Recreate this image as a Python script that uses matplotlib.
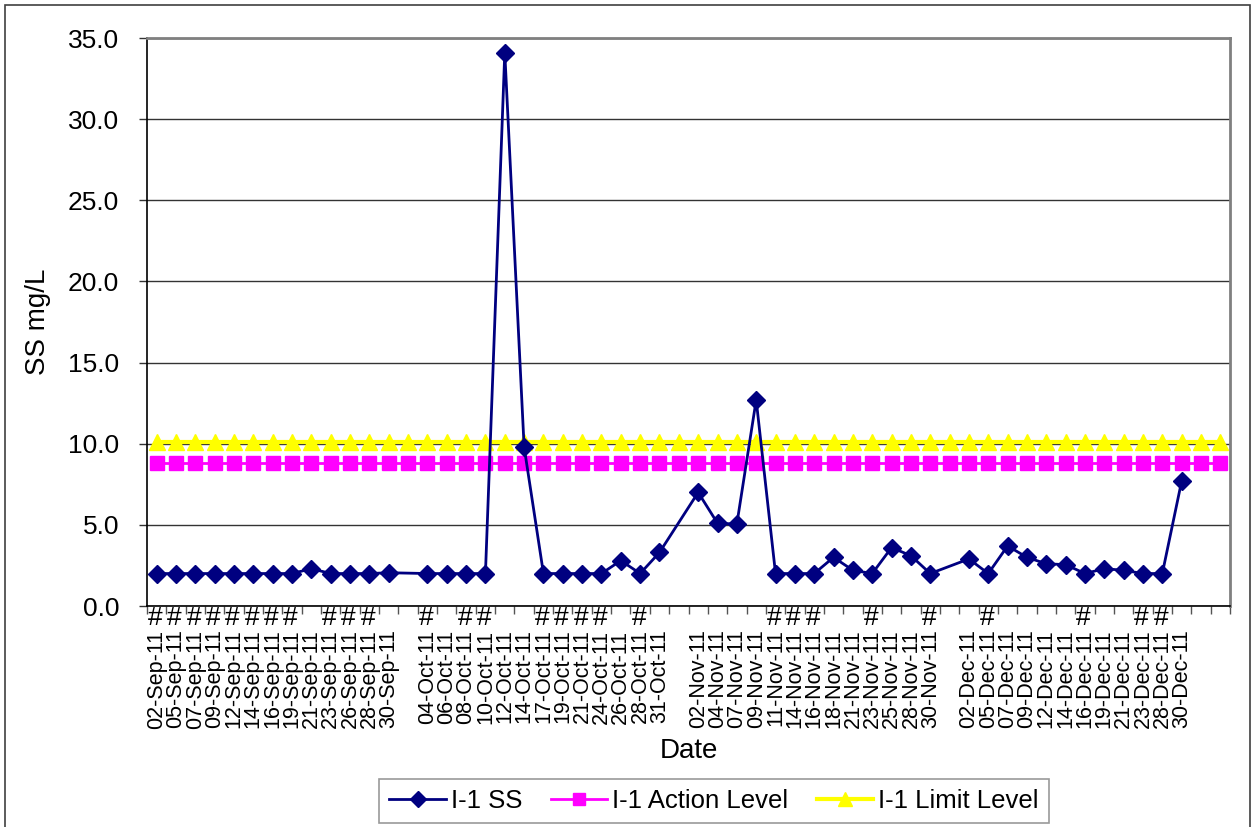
import matplotlib
matplotlib.use("Agg")
import matplotlib.pyplot as plt
import numpy as np
from matplotlib.patches import Rectangle

plt.rcParams['font.family'] = ['Liberation Sans', 'DejaVu Sans']

# ---- data ----
dates = ['02-Sep-11', '05-Sep-11', '07-Sep-11', '09-Sep-11', '12-Sep-11', '14-Sep-11',
         '16-Sep-11', '19-Sep-11', '21-Sep-11', '23-Sep-11', '26-Sep-11', '28-Sep-11',
         '30-Sep-11', '',
         '04-Oct-11', '06-Oct-11', '08-Oct-11', '10-Oct-11', '12-Oct-11', '14-Oct-11',
         '17-Oct-11', '19-Oct-11', '21-Oct-11', '24-Oct-11', '26-Oct-11', '28-Oct-11',
         '31-Oct-11', '',
         '02-Nov-11', '04-Nov-11', '07-Nov-11', '09-Nov-11', '11-Nov-11', '14-Nov-11',
         '16-Nov-11', '18-Nov-11', '21-Nov-11', '23-Nov-11', '25-Nov-11', '28-Nov-11',
         '30-Nov-11', '',
         '02-Dec-11', '05-Dec-11', '07-Dec-11', '09-Dec-11', '12-Dec-11', '14-Dec-11',
         '16-Dec-11', '19-Dec-11', '21-Dec-11', '23-Dec-11', '28-Dec-11', '30-Dec-11',
         '', '']

ss_values = [2.0, 2.0, 2.0, 2.0, 2.0, 2.0, 2.0, 2.0, 2.3, 2.0, 2.0, 2.0, 2.05, None,
             2.0, 2.0, 2.0, 2.0, 34.1, 9.8, 2.0, 2.0, 2.0, 2.0, 2.8, 2.0, 3.3, None,
             7.0, 5.1, 5.05, 12.7, 2.0, 2.0, 2.0, 3.0, 2.2, 2.0, 3.6, 3.1, 2.0, None,
             2.9, 2.0, 3.7, 3.0, 2.6, 2.55, 2.0, 2.3, 2.2, 2.0, 2.0, 7.7, None, None]

action_level = 8.8
limit_level = 10.1

hash_labels = ['#', '#', '#', '#', '#', '#', '#', '#', '', '#', '#', '#', '', '',
               '#', '', '#', '#', '', '', '#', '#', '#', '#', '', '#', '', '',
               '', '', '', '', '#', '#', '#', '', '', '#', '', '', '#', '',
               '', '#', '', '', '', '', '#', '', '', '#', '#', '', '', '']

y_ticks = [0, 5, 10, 15, 20, 25, 30, 35]

# ---- figure ----
fig = plt.figure(figsize=(12.51, 8.27), dpi=100)
ax = fig.add_axes([147 / 1251, 1 - 606 / 827, (1230 - 147) / 1251, (606 - 38) / 827])

n = len(dates)
x_all = np.arange(n)
ss_x = [i for i, v in enumerate(ss_values) if v is not None]
ss_y = [v for v in ss_values if v is not None]

ax.plot(x_all, np.full(n, limit_level), color='#FFFF00', lw=3, marker='^', ms=11,
        mec='#FFFF00', mfc='#FFFF00', label='I-1 Limit Level', zorder=3)
ax.plot(x_all, np.full(n, action_level), color='#FF00FF', lw=2, marker='s', ms=10,
        mec='#FF00FF', mfc='#FF00FF', label='I-1 Action Level', zorder=3)
ax.plot(ss_x, ss_y, color='#000080', lw=2, marker='D', ms=9.5,
        mec='#000080', mfc='#000080', label='I-1 SS', zorder=4)

ax.set_xlim(-0.5, n - 0.5)
ax.set_ylim(0, 35)
ax.set_yticks(y_ticks)
ax.set_yticklabels([f'{v:.1f}' for v in y_ticks], fontsize=19)
ax.yaxis.grid(True, color='#333333', lw=1)
ax.set_axisbelow(True)
ax.tick_params(axis='y', direction='out', length=6, width=1, color='#333333', pad=14)

ax.set_xticks(x_all)
ax.set_xticklabels(dates, rotation=90, fontsize=15.5)
ax.tick_params(axis='x', which='major', length=0, pad=17)
ax.set_xticks(np.arange(-0.5, n, 1.0), minor=True)
ax.tick_params(axis='x', which='minor', direction='out', length=6, width=1, color='#555555')

for i, h in enumerate(hash_labels):
    if h:
        ax.annotate(h, xy=(i, 0), xycoords=('data', 'axes fraction'),
                    xytext=(-1, 0), textcoords='offset points',
                    ha='center', va='top', fontsize=19)

ax.set_xlabel('Date', fontsize=20, labelpad=7)
ax.set_ylabel('SS mg/L', fontsize=20, labelpad=12)

for side in ['top', 'right']:
    ax.spines[side].set_color('#808080')
    ax.spines[side].set_linewidth(2)
for side in ['left', 'bottom']:
    ax.spines[side].set_color('black')
    ax.spines[side].set_linewidth(1.2)

handles, labels = ax.get_legend_handles_labels()
order = [2, 1, 0]
leg = fig.legend([handles[i] for i in order], [labels[i] for i in order],
                 loc='center', bbox_to_anchor=(714 / 1251, 1 - 801 / 827),
                 ncol=3, fontsize=18.5, frameon=True, fancybox=False,
                 edgecolor='#808080', handlelength=2.2, columnspacing=1.1,
                 handletextpad=0.2, borderpad=0.4, markerscale=0.9)
leg.get_frame().set_linewidth(1.2)

fig.patches.append(Rectangle((5 / 1251, -0.01), 1245 / 1251, 1 - 5 / 827 + 0.01,
                             transform=fig.transFigure, fill=False,
                             edgecolor='#404040', lw=1.2))

fig.savefig('out.png', dpi=100)
